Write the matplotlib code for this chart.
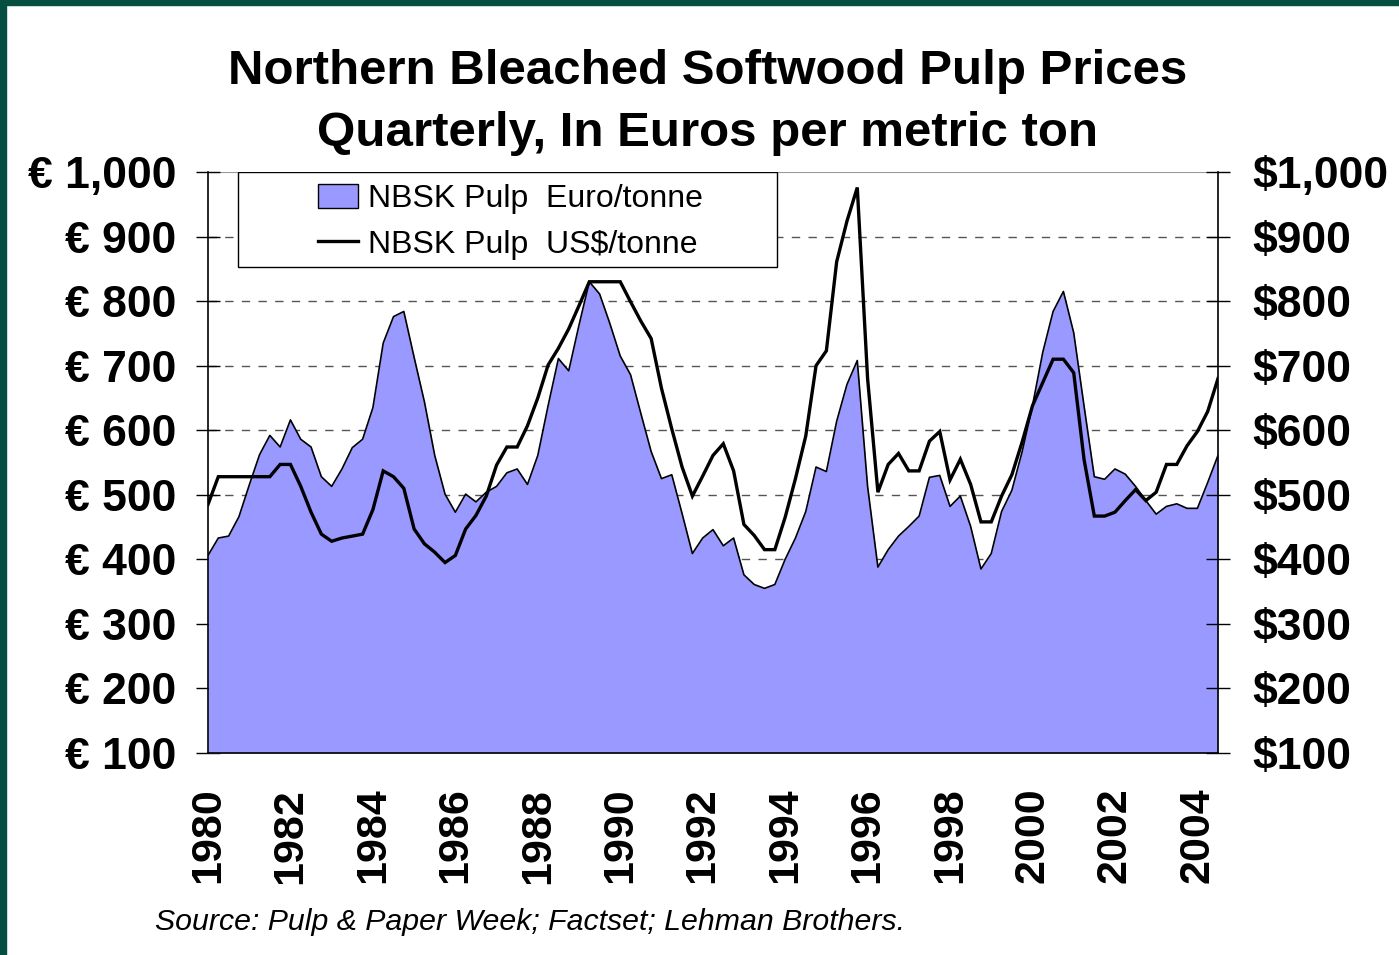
import matplotlib
matplotlib.use("Agg")
import matplotlib.pyplot as plt
from matplotlib.patches import Rectangle, Patch
from matplotlib.lines import Line2D
import numpy as np

# quarterly NBSK pulp prices, 1980Q1 .. 2004Q3
euro = [406, 433, 436, 466, 515, 562, 592, 574, 616, 586,
        574, 528, 513, 540, 573, 586, 635, 735, 776, 784,
        713, 644, 561, 501, 473, 501, 489, 504, 513, 534,
        540, 516, 561, 638, 711, 692, 763, 830, 811, 765,
        715, 686, 626, 567, 525, 531, 471, 409, 433, 446,
        421, 433, 376, 361, 355, 361, 400, 433, 474, 543,
        536, 614, 671, 708, 513, 388, 415, 436, 451, 467,
        527, 530, 482, 498, 451, 385, 409, 474, 507, 567,
        638, 721, 784, 815, 751, 638, 528, 524, 540, 532,
        513, 491, 470, 482, 486, 479, 479, 519, 561]
usd = [485, 528, 528, 528, 528, 528, 528, 547, 547, 513,
       473, 439, 428, 433, 436, 439, 477, 537, 528, 510,
       447, 424, 411, 395, 406, 447, 468, 498, 546, 574,
       574, 607, 650, 701, 727, 757, 793, 830, 830, 830,
       830, 799, 769, 742, 665, 602, 543, 498, 529, 561,
       579, 537, 454, 437, 415, 415, 465, 525, 591, 700,
       723, 861, 924, 976, 680, 504, 547, 564, 537, 537,
       583, 598, 523, 555, 516, 458, 458, 498, 531, 582,
       638, 674, 710, 710, 689, 555, 467, 467, 473, 491,
       508, 491, 504, 547, 547, 576, 598, 629, 680]
x = 1980 + 0.25 * np.arange(len(euro))

years = list(range(1980, 2005, 2))
levels = list(range(100, 1001, 100))
euro_labels = ["€ " + f"{v:,}" for v in levels]
usd_labels = ["$" + f"{v:,}" for v in levels]

plt.rcParams["font.family"] = ["Liberation Sans", "DejaVu Sans"]

fig = plt.figure(figsize=(13.99, 9.55), dpi=100)
ax = fig.add_axes([208 / 1399, 1 - 753 / 955, 1010 / 1399, 581 / 955])

ax.fill_between(x, 100, euro, color="#9999ff", lw=0, zorder=2)
ax.plot(x, euro, color="black", lw=1.2, zorder=3)
ax.plot(x, usd, color="black", lw=2.4, zorder=4, solid_joinstyle="miter")

ax.set_xlim(1980, 1980 + 0.25 * (len(euro) - 1))
ax.set_ylim(100, 1000)

for v in levels[3:-1]:
    ax.axhline(v, color="#555555", lw=1, ls=(0, (6, 6)), zorder=1)
ax.axhline(1000, color="#999999", lw=1.5, zorder=1)

ax.set_yticks(levels)
ax.set_yticklabels(euro_labels, fontsize=32, fontweight="bold")
ax.tick_params(axis="y", direction="inout", length=17, width=1, pad=14)
ax.set_xticks(years)
ax.set_xticklabels([str(y) for y in years], rotation=90, fontsize=31,
                   fontweight="bold", va="top")
ax.tick_params(axis="x", length=0, pad=25)

for s in ["top", "right"]:
    ax.spines[s].set_visible(False)
ax.spines["left"].set_linewidth(1.2)
ax.spines["bottom"].set_linewidth(1.2)

ax2 = ax.twinx()
ax2.set_ylim(100, 1000)
ax2.set_yticks(levels)
ax2.set_yticklabels(usd_labels, fontsize=32, fontweight="bold")
ax2.tick_params(axis="y", direction="inout", length=17, width=1, pad=16)
for s in ["top", "left", "bottom"]:
    ax2.spines[s].set_visible(False)
ax2.spines["right"].set_linewidth(1.2)

# legend box
x0 = (238 - 208) / 1010
w = (777 - 238) / 1010
h = (267 - 172) / 581
ax.add_patch(Rectangle((x0, 1 - h), w, h, transform=ax.transAxes,
                       facecolor="white", edgecolor="black", lw=1, zorder=5))
handles = [Patch(facecolor="#9999ff", edgecolor="black", lw=1),
           Line2D([], [], color="black", lw=2.4)]
leg = ax.legend(handles, ["NBSK Pulp  Euro/tonne", "NBSK Pulp  US$/tonne"],
                loc="center", bbox_to_anchor=(x0 + w / 2 + 0.003, 1 - h / 2 - 0.004),
                frameon=False, fontsize=23, handlelength=1.25,
                handleheight=0.8, handletextpad=0.3, labelspacing=0.5,
                borderpad=0)
leg.set_zorder(6)

fig.text(0.506, 1 - 72 / 955, "Northern Bleached Softwood Pulp Prices",
         ha="center", va="center", fontsize=35.5, fontweight="bold")
fig.text(0.506, 1 - 134 / 955, "Quarterly, In Euros per metric ton",
         ha="center", va="center", fontsize=35.5, fontweight="bold")
fig.text(155 / 1399, 1 - 922 / 955,
         "Source: Pulp & Paper Week; Factset; Lehman Brothers.",
         ha="left", va="center", fontsize=21.8, style="italic")

# dark green frame edges
fig.patches.append(Rectangle((0, 0), 6 / 1399, 1, transform=fig.transFigure,
                             color="#064e3f", zorder=10))
fig.patches.append(Rectangle((0, 1 - 5 / 955), 1, 5 / 955,
                             transform=fig.transFigure, color="#064e3f",
                             zorder=10))

fig.savefig("out.png", dpi=100)
